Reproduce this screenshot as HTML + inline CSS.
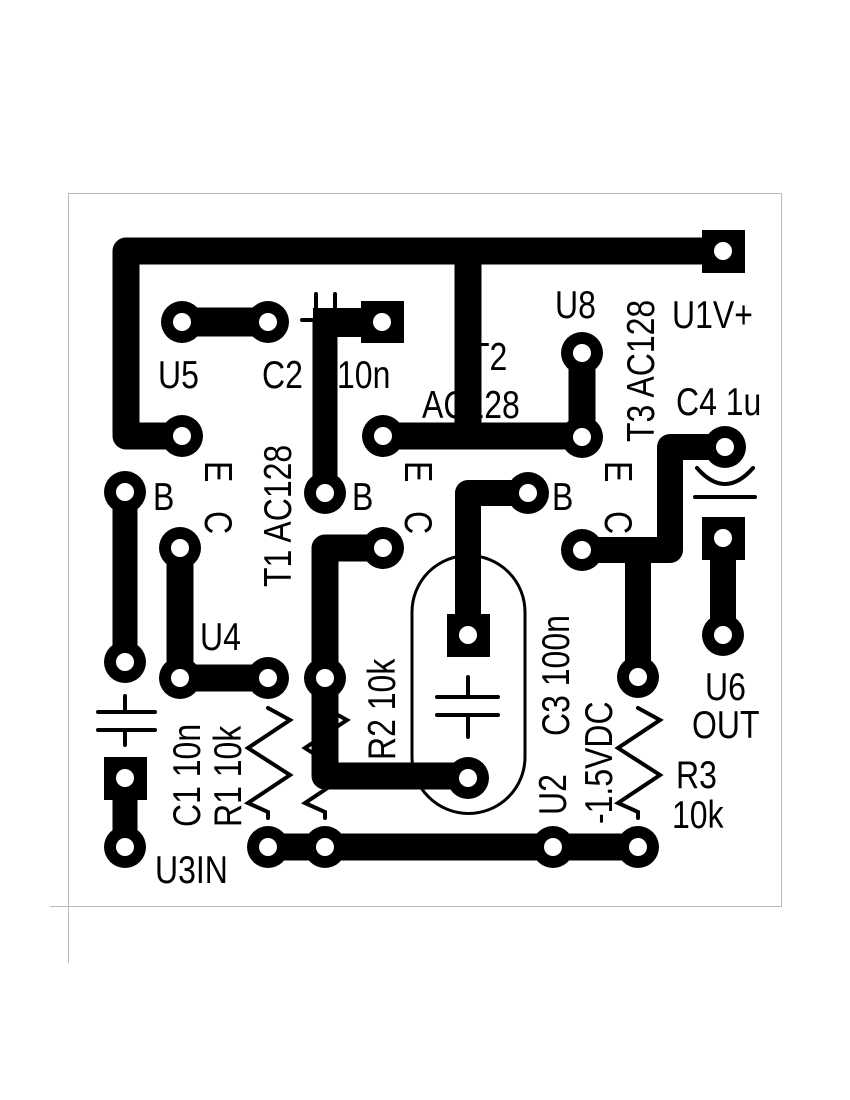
<!DOCTYPE html>
<html><head><meta charset="utf-8"><style>
html,body{margin:0;padding:0;background:#fff;}
svg{display:block;}
text{font-family:"Liberation Sans",sans-serif;font-size:39px;fill:#000;}
</style></head><body>
<svg width="850" height="1100" viewBox="0 0 850 1100" xmlns="http://www.w3.org/2000/svg">
<rect x="68.5" y="193.5" width="713" height="713" fill="none" stroke="#bbb" stroke-width="1"/>
<line x1="50" y1="906.5" x2="68" y2="906.5" stroke="#bbb"/>
<line x1="68.5" y1="906" x2="68.5" y2="963" stroke="#bbb"/>

<g fill="none" stroke="#000" stroke-width="27" stroke-linejoin="round">
<path d="M723 251 H126 V436 H182"/>
<path d="M468 251 V436"/>
<path d="M383 436 H582 V353"/>
<path d="M182 322 H268" stroke-width="29"/>
<path d="M382 322 H325 V493" stroke-width="25"/>
<path d="M125 492 V662" stroke-width="25"/>
<path d="M180 548 V678 H268"/>
<path d="M125 778 V847" stroke-width="25"/>
<path d="M268 847 H638"/>
<path d="M383 548 H325 V776 H468"/>
<path d="M468 635 V493 H528" stroke-width="26"/>
<path d="M582 550 H670 V447 H725" stroke-width="26"/>
<path d="M638 550 V677" stroke-width="26"/>
<path d="M723 538 V635" stroke-width="26"/>
</g>
<rect x="313" y="308" width="60" height="29" fill="#000"/>

<g fill="#000">
<circle cx="182" cy="322" r="21"/><circle cx="268" cy="322" r="21"/>
<circle cx="182" cy="436" r="21"/><circle cx="383" cy="436" r="21"/>
<circle cx="582" cy="353" r="21"/><circle cx="582" cy="437" r="21"/>
<circle cx="125" cy="492" r="21"/><circle cx="325" cy="493" r="21"/><circle cx="528" cy="493" r="21"/>
<circle cx="180" cy="548" r="21"/><circle cx="383" cy="548" r="21"/><circle cx="582" cy="550" r="21"/>
<circle cx="725" cy="447" r="21"/>
<circle cx="125" cy="662" r="21"/><circle cx="180" cy="678" r="21"/><circle cx="268" cy="678" r="21"/>
<circle cx="325" cy="678" r="21"/><circle cx="638" cy="677" r="21"/><circle cx="723" cy="635" r="21"/>
<circle cx="468" cy="778" r="21"/>
<circle cx="125" cy="847" r="21"/><circle cx="268" cy="847" r="21"/><circle cx="325" cy="847" r="21"/>
<circle cx="553" cy="847" r="21"/><circle cx="638" cy="847" r="21"/>
<rect x="361" y="301" width="43" height="42"/>
<rect x="702" y="230" width="43" height="43"/>
<rect x="702" y="517" width="43" height="43"/>
<rect x="104" y="757" width="43" height="43"/>
<rect x="447" y="614" width="43" height="43"/>
</g>
<g fill="#fff">
<circle cx="182" cy="322" r="9"/><circle cx="268" cy="322" r="9"/>
<circle cx="182" cy="436" r="9"/><circle cx="383" cy="436" r="9"/>
<circle cx="582" cy="353" r="9"/><circle cx="582" cy="437" r="9"/>
<circle cx="125" cy="492" r="9"/><circle cx="325" cy="493" r="9"/><circle cx="528" cy="493" r="9"/>
<circle cx="180" cy="548" r="9"/><circle cx="383" cy="548" r="9"/><circle cx="582" cy="550" r="9"/>
<circle cx="725" cy="447" r="9"/>
<circle cx="125" cy="662" r="9"/><circle cx="180" cy="678" r="9"/><circle cx="268" cy="678" r="9"/>
<circle cx="325" cy="678" r="9"/><circle cx="638" cy="677" r="9"/><circle cx="723" cy="635" r="9"/>
<circle cx="468" cy="778" r="9"/>
<circle cx="125" cy="847" r="9"/><circle cx="268" cy="847" r="9"/><circle cx="325" cy="847" r="9"/>
<circle cx="553" cy="847" r="9"/><circle cx="638" cy="847" r="9"/>
<circle cx="382" cy="322" r="9"/><circle cx="723" cy="251" r="9"/><circle cx="723" cy="538" r="9"/>
<circle cx="125" cy="778" r="9"/><circle cx="468" cy="635" r="9"/>
</g>

<g fill="none" stroke="#000" stroke-width="4" stroke-linecap="round">
<path d="M316 294 V312 M335 294 V312 M302 320 H312"/>
<path d="M98 712 H155 M98 730 H155 M125 696 V712 M125 730 V745"/>
<path d="M437 697 H498 M437 715 H498 M468 677 V697 M468 715 V737"/>
<path d="M695 497 H755 M697 468 Q725 500 753 468"/>
<path d="M412 612 V757 A56 56 0 0 0 525 757 V612 A56 56 0 0 0 412 612 Z" stroke-width="3"/>
<polyline points="268,708 290,720 248,748 290,775 248,803 268,812 268,818"/>
<polyline points="325,708 347,720 305,748 347,775 305,803 325,812 325,818"/>
<polyline points="638,708 660,720 618,748 660,775 618,803 638,812 638,818"/>
</g>

<g>
<text transform="translate(158,388) scale(0.82,1)">U5</text>
<text transform="translate(262,388) scale(0.82,1)">C2</text>
<text transform="translate(337,388) scale(0.82,1)">10n</text>
<text transform="translate(470,370) scale(0.82,1)">T2</text>
<text transform="translate(422,418) scale(0.82,1)">AC128</text>
<text transform="translate(555,318) scale(0.82,1)">U8</text>
<text transform="translate(672,328) scale(0.82,1)">U1V+</text>
<text transform="translate(676,415) scale(0.82,1)">C4 1u</text>
<text transform="translate(153,510) scale(0.82,1)">B</text>
<text transform="translate(352,510) scale(0.82,1)">B</text>
<text transform="translate(552,510) scale(0.82,1)">B</text>
<text transform="translate(200,650) scale(0.82,1)">U4</text>
<text transform="translate(155,883) scale(0.82,1)">U3IN</text>
<text transform="translate(705,700) scale(0.82,1)">U6</text>
<text transform="translate(692,738) scale(0.82,1)">OUT</text>
<text transform="translate(676,788) scale(0.82,1)">R3</text>
<text transform="translate(672,828) scale(0.82,1)">10k</text>

<text transform="translate(205,461) rotate(90) scale(0.82,1)">E</text>
<text transform="translate(205,511) rotate(90) scale(0.82,1)">C</text>
<text transform="translate(405,461) rotate(90) scale(0.82,1)">E</text>
<text transform="translate(405,511) rotate(90) scale(0.82,1)">C</text>
<text transform="translate(605,461) rotate(90) scale(0.82,1)">E</text>
<text transform="translate(605,511) rotate(90) scale(0.82,1)">C</text>
<text transform="translate(291,587) rotate(-90) scale(0.82,1)">T1 AC128</text>
<text transform="translate(654,442) rotate(-90) scale(0.82,1)">T3 AC128</text>
<text transform="translate(395,760) rotate(-90) scale(0.82,1)">R2 10k</text>
<text transform="translate(200,827) rotate(-90) scale(0.82,1)">C1 10n</text>
<text transform="translate(241,827) rotate(-90) scale(0.82,1)">R1 10k</text>
<text transform="translate(569,736) rotate(-90) scale(0.82,1)">C3 100n</text>
<text transform="translate(566,815) rotate(-90) scale(0.82,1)">U2</text>
<text transform="translate(612,824) rotate(-90) scale(0.82,1)">-1.5VDC</text>
</g>
</svg>
</body></html>
